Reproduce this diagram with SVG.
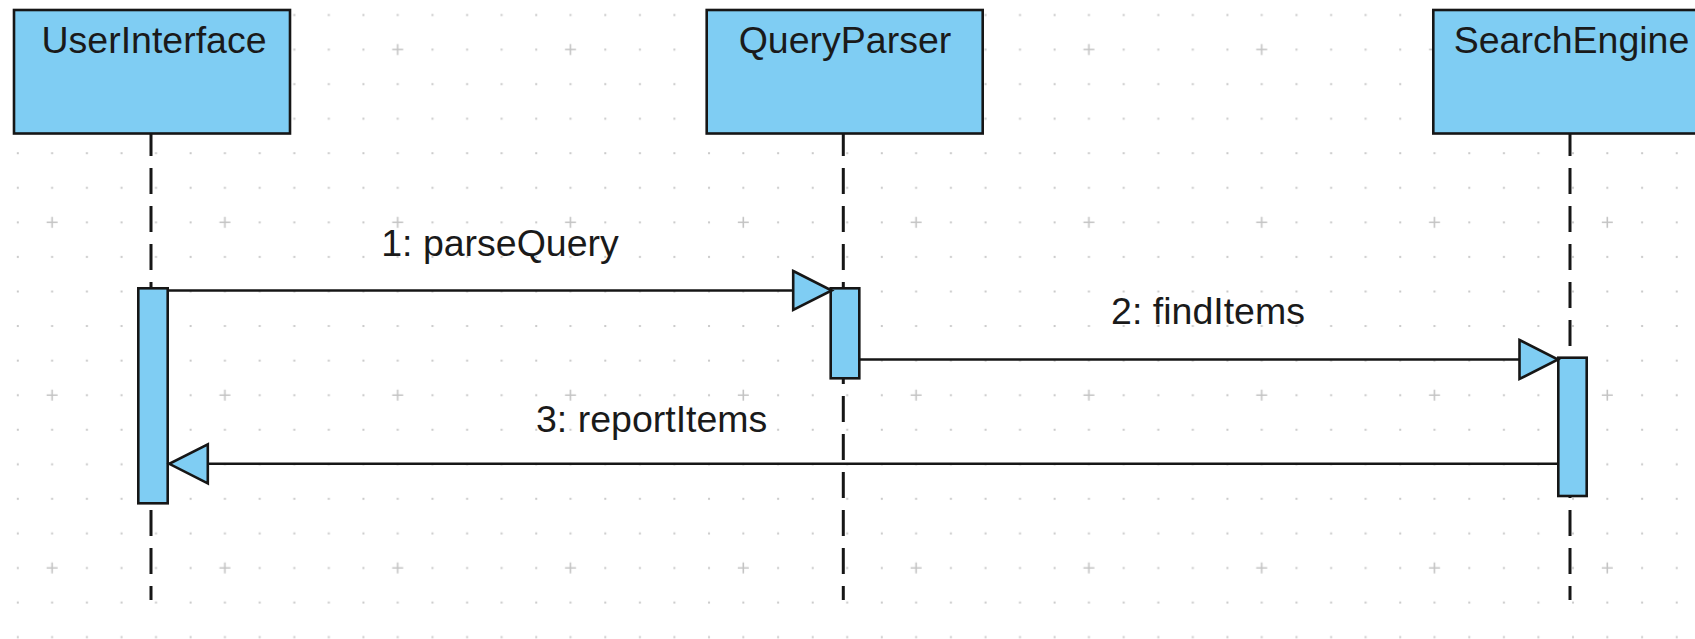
<svg xmlns="http://www.w3.org/2000/svg" width="1695" height="639" viewBox="0 0 1695 639">
  <defs>
    <!-- background grid: a dot every 34.56px, a cross every fifth dot -->
    <pattern id="grid" patternUnits="userSpaceOnUse" x="34.82" y="32.32" width="172.8" height="172.8">
      <g fill="#c9c9c9">
        <rect x="51.1" y="16.3" width="2" height="2"/><rect x="85.7" y="16.3" width="2" height="2"/>
        <rect x="120.2" y="16.3" width="2" height="2"/><rect x="154.8" y="16.3" width="2" height="2"/>
        <rect x="16.3" y="50.8" width="2" height="2"/><rect x="51.1" y="50.8" width="2" height="2"/>
        <rect x="85.7" y="50.8" width="2" height="2"/><rect x="120.2" y="50.8" width="2" height="2"/>
        <rect x="154.8" y="50.8" width="2" height="2"/>
        <rect x="16.3" y="85.4" width="2" height="2"/><rect x="51.1" y="85.4" width="2" height="2"/>
        <rect x="85.7" y="85.4" width="2" height="2"/><rect x="120.2" y="85.4" width="2" height="2"/>
        <rect x="154.8" y="85.4" width="2" height="2"/>
        <rect x="16.3" y="119.9" width="2" height="2"/><rect x="51.1" y="119.9" width="2" height="2"/>
        <rect x="85.7" y="119.9" width="2" height="2"/><rect x="120.2" y="119.9" width="2" height="2"/>
        <rect x="154.8" y="119.9" width="2" height="2"/>
        <rect x="16.3" y="154.5" width="2" height="2"/><rect x="51.1" y="154.5" width="2" height="2"/>
        <rect x="85.7" y="154.5" width="2" height="2"/><rect x="120.2" y="154.5" width="2" height="2"/>
        <rect x="154.8" y="154.5" width="2" height="2"/>
      </g>
      <path d="M11.8 17.3 H22.8 M17.3 11.8 V22.8" stroke="#c4c4c4" stroke-width="1.6" fill="none"/>
    </pattern>
    <!-- open-headed message arrow, filled like the participants -->
    <marker id="msgArrow" viewBox="0 0 41 42" markerUnits="userSpaceOnUse" markerWidth="41" markerHeight="42" refX="40" refY="21" orient="auto" overflow="visible">
      <path d="M1.5 1.5 L40 21 L1.5 40.5 Z" fill="#7fcdf3" stroke="#161616" stroke-width="2.6" stroke-linejoin="miter"/>
    </marker>
  </defs>
  <style>
    .head { fill: #7fcdf3; stroke: #161616; stroke-width: 2.6; }
    .act { fill: #7fcdf3; stroke: #161616; stroke-width: 2.6; }
    .life { stroke: #161616; stroke-width: 3; stroke-dasharray: 26 12; fill: none; }
    .msg { stroke: #161616; stroke-width: 2.6; fill: none; marker-end: url(#msgArrow); }
    .name, .label { font-family: "Liberation Sans", Arial, sans-serif; font-size: 37.5px; fill: #1a1a1a; text-anchor: middle; }
  </style>

  <rect width="1695" height="639" fill="#ffffff"/>
  <rect width="1695" height="639" fill="url(#grid)"/>

  <g id="user-interface">
    <line class="life" x1="151" y1="130" x2="151" y2="600"/>
    <rect class="head" x="14" y="10" width="276" height="123.5"/>
    <text class="name" x="154" y="53.3">UserInterface</text>
    <rect class="act" x="138.3" y="288.3" width="29.4" height="215"/>
  </g>

  <g id="query-parser">
    <line class="life" x1="843.3" y1="130" x2="843.3" y2="600"/>
    <rect class="head" x="706.7" y="10" width="276" height="123.5"/>
    <text class="name" x="845" y="53.3">QueryParser</text>
    <rect class="act" x="830.7" y="288.3" width="28.6" height="90"/>
  </g>

  <g id="search-engine">
    <line class="life" x1="1570" y1="130" x2="1570" y2="600"/>
    <rect class="head" x="1433.3" y="10" width="276" height="123.5"/>
    <text class="name" x="1571.5" y="53.3">SearchEngine</text>
    <rect class="act" x="1558.3" y="357.7" width="28.4" height="138.3"/>
  </g>

  <g id="messages">
    <path class="msg" d="M167.7 290.5 H831.7"/>
    <text class="label" x="500" y="256">1: parseQuery</text>
    <path class="msg" d="M859.3 359.5 H1558"/>
    <text class="label" x="1208" y="324.3">2: findItems</text>
    <path class="msg" d="M1558.3 463.8 H169.3"/>
    <text class="label" x="651.7" y="432.3">3: reportItems</text>
  </g>
</svg>
